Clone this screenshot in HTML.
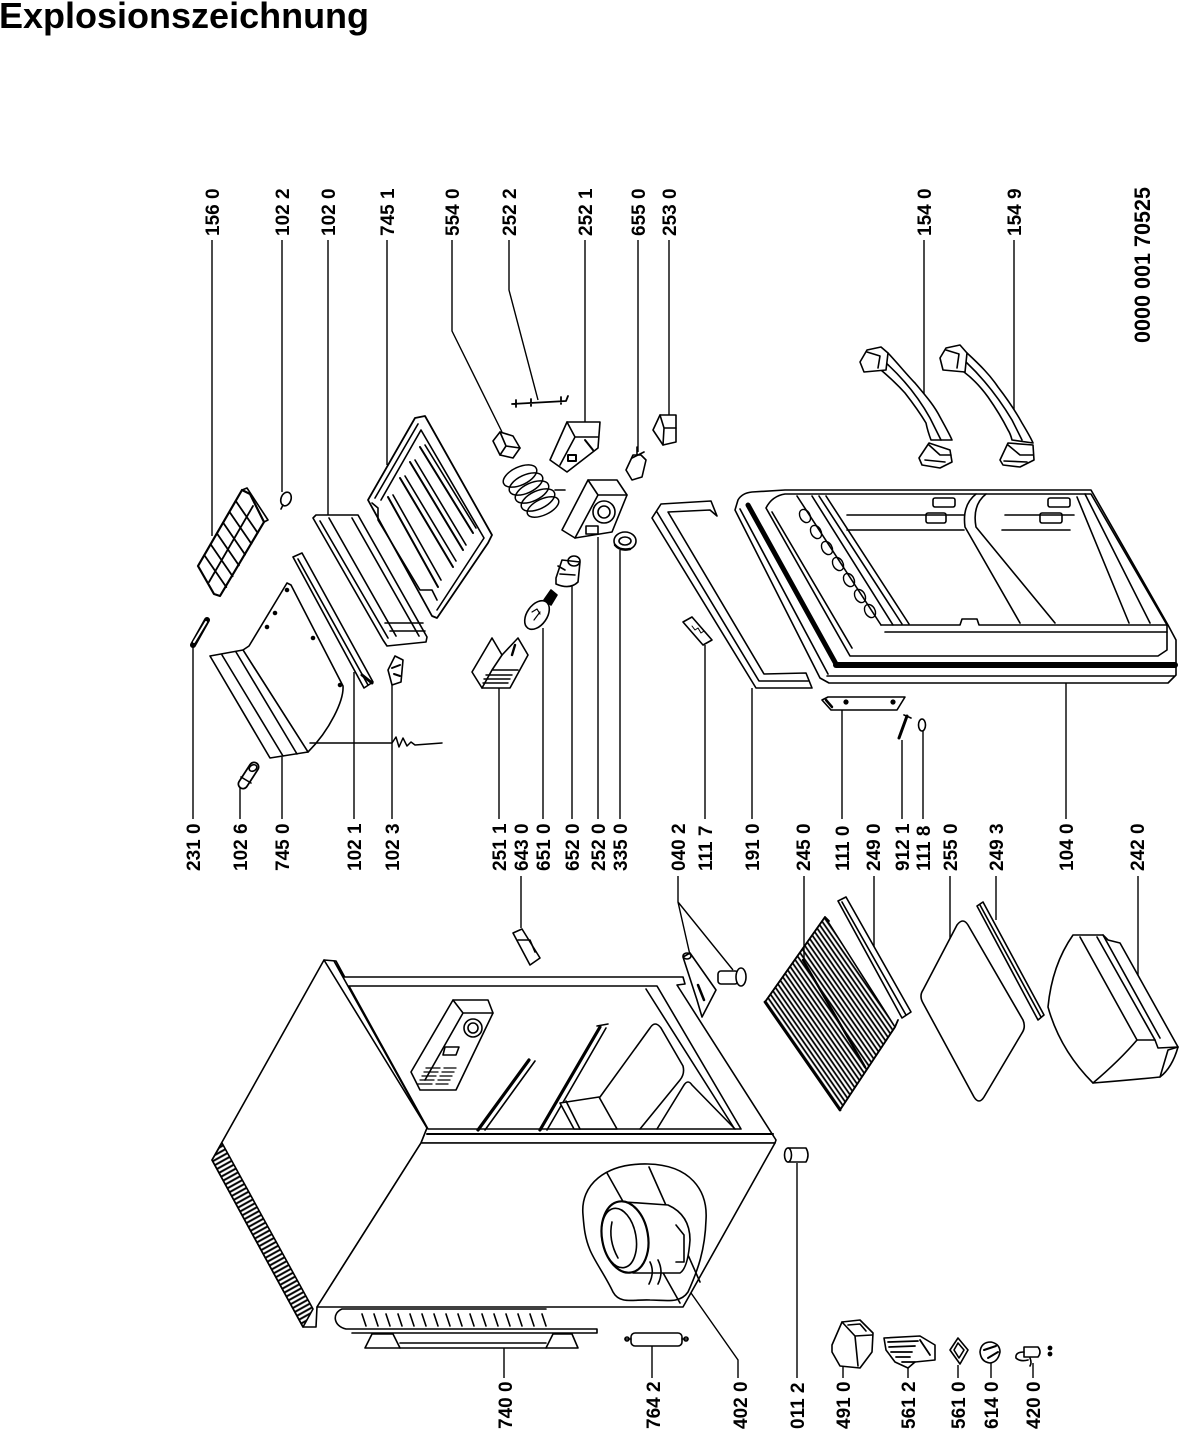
<!DOCTYPE html>
<html><head><meta charset="utf-8">
<style>
html,body{margin:0;padding:0;background:#fff;}
svg{display:block;}
text{font-family:"Liberation Sans",Arial,sans-serif;font-weight:bold;fill:#000;}
</style></head><body>
<svg width="1179" height="1439" viewBox="0 0 1179 1439" xmlns="http://www.w3.org/2000/svg">
<defs>
<pattern id="wire" patternUnits="userSpaceOnUse" width="4" height="10" patternTransform="rotate(-34.8)"><line x1="1.2" y1="0" x2="1.2" y2="10" stroke="#000" stroke-width="1.8"/></pattern>
<pattern id="grill" patternUnits="userSpaceOnUse" width="10" height="4.4" patternTransform="rotate(-29)"><line x1="0" y1="1.2" x2="10" y2="1.2" stroke="#000" stroke-width="2"/></pattern>
</defs>
<rect width="1179" height="1439" fill="#fff"/>

<text x="-1" y="28" font-size="36">Explosionszeichnung</text>

<g font-size="19">
<text transform="translate(218.8,236) rotate(-90)">156 0</text>
<text transform="translate(288.8,236) rotate(-90)">102 2</text>
<text transform="translate(334.8,236) rotate(-90)">102 0</text>
<text transform="translate(393.8,236) rotate(-90)">745 1</text>
<text transform="translate(458.8,236) rotate(-90)">554 0</text>
<text transform="translate(515.8,236) rotate(-90)">252 2</text>
<text transform="translate(591.8,236) rotate(-90)">252 1</text>
<text transform="translate(644.8,236) rotate(-90)">655 0</text>
<text transform="translate(675.8,236) rotate(-90)">253 0</text>
<text transform="translate(930.8,236) rotate(-90)">154 0</text>
<text transform="translate(1020.8,236) rotate(-90)">154 9</text>
<text transform="translate(199.8,871) rotate(-90)">231 0</text>
<text transform="translate(246.8,871) rotate(-90)">102 6</text>
<text transform="translate(288.8,871) rotate(-90)">745 0</text>
<text transform="translate(360.8,871) rotate(-90)">102 1</text>
<text transform="translate(398.8,871) rotate(-90)">102 3</text>
<text transform="translate(505.8,871) rotate(-90)">251 1</text>
<text transform="translate(527.8,871) rotate(-90)">643 0</text>
<text transform="translate(549.8,871) rotate(-90)">651 0</text>
<text transform="translate(578.8,871) rotate(-90)">652 0</text>
<text transform="translate(604.8,871) rotate(-90)">252 0</text>
<text transform="translate(626.8,871) rotate(-90)">335 0</text>
<text transform="translate(684.8,871) rotate(-90)">040 2</text>
<text transform="translate(711.8,871) rotate(-90)">111 7</text>
<text transform="translate(758.8,871) rotate(-90)">191 0</text>
<text transform="translate(809.8,871) rotate(-90)">245 0</text>
<text transform="translate(848.8,871) rotate(-90)">111 0</text>
<text transform="translate(879.8,871) rotate(-90)">249 0</text>
<text transform="translate(908.8,871) rotate(-90)">912 1</text>
<text transform="translate(929.8,871) rotate(-90)">111 8</text>
<text transform="translate(956.8,871) rotate(-90)">255 0</text>
<text transform="translate(1002.8,871) rotate(-90)">249 3</text>
<text transform="translate(1072.8,871) rotate(-90)">104 0</text>
<text transform="translate(1143.8,871) rotate(-90)">242 0</text>
<text transform="translate(511.8,1429) rotate(-90)">740 0</text>
<text transform="translate(659.8,1429) rotate(-90)">764 2</text>
<text transform="translate(746.8,1429) rotate(-90)">402 0</text>
<text transform="translate(803.8,1429) rotate(-90)">011 2</text>
<text transform="translate(849.8,1429) rotate(-90)">491 0</text>
<text transform="translate(914.8,1429) rotate(-90)">561 2</text>
<text transform="translate(964.8,1429) rotate(-90)">561 0</text>
<text transform="translate(997.8,1429) rotate(-90)">614 0</text>
<text transform="translate(1039.8,1429) rotate(-90)">420 0</text>
</g>
<text transform="translate(1150,343) rotate(-90)" font-size="22" textLength="156" lengthAdjust="spacingAndGlyphs">0000 001 70525</text>

<g fill="none" stroke="#000" stroke-width="1.4">
<path d="M212,240 V536"/>
<path d="M282,240 V492"/>
<path d="M328,240 V516"/>
<path d="M387,240 V465"/>
<path d="M452,240 V331 L502,432"/>
<path d="M509,240 V290 L538,400"/>
<path d="M585,240 V422"/>
<path d="M638,240 V452"/>
<path d="M669,240 V415"/>
<path d="M924,240 V394"/>
<path d="M1014,240 V410"/>
<path d="M193,819 V646"/>
<path d="M240,819 V787"/>
<path d="M282,819 V757"/>
<path d="M354,819 V672"/>
<path d="M392,819 V685"/>
<path d="M499,819 V688"/>
<path d="M521,876 V928"/>
<path d="M543,819 V628"/>
<path d="M572,819 V576"/>
<path d="M598,819 V537"/>
<path d="M620,819 V550"/>
<path d="M678,876 V902 L690,955 M678,902 L733,970"/>
<path d="M705,819 V645"/>
<path d="M752,819 V688"/>
<path d="M804,876 V963"/>
<path d="M842,819 V710"/>
<path d="M874,876 V947"/>
<path d="M902,819 V740"/>
<path d="M923,819 V731"/>
<path d="M950,876 V950"/>
<path d="M996,876 V920"/>
<path d="M1066,819 V683"/>
<path d="M1138,876 V987"/>
<path d="M504,1378 V1348"/>
<path d="M652,1378 V1346"/>
<path d="M738,1378 V1360 L684,1283"/>
<path d="M797,1378 V1163"/>
<path d="M843,1378 V1367"/>
<path d="M908,1378 V1365"/>
<path d="M958,1378 V1365"/>
<path d="M991,1378 V1363"/>
<path d="M1033,1378 V1363"/>
</g>

<g fill="none" stroke="#000" stroke-width="1.6" stroke-linejoin="round" stroke-linecap="round">

<!-- CABINET -->
<path fill="#fff" d="M324,960 L336,961 L427,1128 L421,1143 L317,1307 L316,1327 L303,1327 L212,1160 Z"/>
<path d="M324,960 L427,1128"/>
<path fill="url(#grill)" d="M212,1160 L303,1327 L313,1309 L222,1143 Z"/>
<path fill="#fff" d="M334,961 L344,977 L683,977 L685,984 L677,985 L776,1140 L775,1143 L421,1143 L427,1128 Z"/>
<path fill="#fff" d="M349,986 L657,986 L741,1129 L428,1129 Z"/>
<path d="M427,1134 L773,1134" stroke-width="2"/>
<path d="M646,989 L734,1128"/>
<path fill="#fff" d="M421,1143 L775,1143 L683,1307 L317,1307 Z"/>
<path fill="#fff" d="M411,1072 L453,1000 L488,1000 L493,1013 L456,1090 L420,1090 Z"/>
<path d="M453,1000 L463,1013 L493,1013 M463,1013 L425,1080"/>
<circle cx="473" cy="1028" r="9"/>
<circle cx="473" cy="1028" r="5"/>
<path d="M445,1047 L459,1047 L456,1055 L443,1055 Z"/>
<path d="M426,1068 L440,1068 M424,1072 L438,1072 M422,1076 L436,1076 M420,1080 L434,1080 M418,1084 L432,1084 M444,1068 L456,1068 M442,1072 L454,1072 M440,1076 L452,1076 M438,1080 L450,1080 M436,1084 L448,1084" stroke-width="1.3"/>
<path d="M529,1060 L478,1130" stroke-width="3.2"/>
<path d="M535,1061 L485,1130"/>
<path d="M600,1027 L540,1130" stroke-width="3.2"/>
<path d="M606,1028 L547,1130 M597,1026 L608,1024"/>
<path d="M600,1097 L650,1028 Q655,1020 661,1028 L683,1066 Q685,1074 680,1080 L640,1129"/>
<path d="M657,1129 L684,1085 Q688,1079 692,1085 L735,1129"/>
<path fill="#fff" d="M560,1103 L599,1097 L617,1129 L574,1129 Z"/>
<path d="M566,1101 L580,1129"/>
<path d="M607,1173 L680,1303 M649,1167 L700,1282"/>
<path d="M583,1215 C580,1185 605,1163 648,1164 C690,1165 708,1190 706,1220 C705,1250 698,1270 688,1292 C680,1304 665,1300 650,1300 C635,1299 620,1305 613,1292 C605,1275 595,1262 590,1250 C585,1238 584,1228 583,1215 Z"/>
<path fill="#fff" d="M625,1202 L668,1205 Q690,1215 690,1240 Q688,1268 680,1273 L633,1273 Z"/>
<ellipse cx="625" cy="1237" rx="23" ry="36" transform="rotate(-10 625 1237)" fill="#fff" stroke-width="2.2"/>
<ellipse cx="619" cy="1238" rx="17" ry="30" transform="rotate(-10 619 1238)"/>
<path d="M612,1222 Q608,1240 618,1258"/>
<path d="M650,1262 q5,10 -1,22 M658,1260 q6,12 0,24"/>
<path d="M676,1225 L684,1235 L684,1262 L676,1262"/>
<!-- condenser -->
<path fill="#fff" d="M546,1309 L342,1309 C332,1313 333,1326 346,1329 L597,1329 L597,1333 L352,1333"/>
<path d="M362,1314 l4,12 M374,1314 l4,12 M386,1314 l4,12 M398,1314 l4,12 M410,1314 l4,12 M422,1314 l4,12 M434,1314 l4,12 M446,1314 l4,12 M458,1314 l4,12 M470,1314 l4,12 M482,1314 l4,12 M494,1314 l4,12 M506,1314 l4,12 M518,1314 l4,12 M530,1314 l4,12 M542,1314 l4,12"/>
<path fill="#fff" d="M365,1348 L372,1334 L393,1334 L400,1348 Z"/>
<path fill="#fff" d="M546,1348 L553,1334 L572,1334 L578,1348 Z"/>
<path d="M400,1343 L546,1343 M400,1348 L546,1348"/>
<rect x="631" y="1333" width="51" height="13" rx="4" fill="#fff"/>
<path d="M625,1339 L631,1339 M682,1339 L688,1339"/>
<circle cx="627" cy="1339" r="2"/><circle cx="686" cy="1339" r="2"/>
<path fill="#fff" d="M788,1148 L806,1148 Q810,1155 806,1162 L788,1162 Z"/>
<ellipse cx="788" cy="1155" rx="3.5" ry="7" fill="#fff"/>
<path fill="#fff" d="M683,957 L690,953 L716,990 L702,1017 L697,1000 Z"/>
<ellipse cx="687" cy="956" rx="4" ry="3"/>
<path d="M698,985 L704,1000" stroke-width="2.5"/>
<rect x="718" y="971" width="20" height="13" rx="3" fill="#fff"/>
<ellipse cx="741" cy="977" rx="5" ry="9" fill="#fff"/>
<path fill="#fff" d="M513,933 L522,929 L540,958 L530,965 Z"/>
<path d="M518,940 L530,940 L535,952"/>

<!-- SHELVES -->
<path fill="url(#wire)" d="M765,1002 L825,917 L895,1027 L840,1110 Z"/>
<path d="M765,1002 L825,917 L829,921 M840,1110 L895,1027 L898,1020" stroke-width="1.8"/>
<path d="M765,1002 L840,1110" stroke-width="2.8"/>
<path d="M803,960 L865,1067" stroke-width="2.4"/>
<path fill="#fff" d="M838,901 L846,897 L911,1012 L902,1018 Z"/>
<path d="M842,902 L906,1015"/>
<path fill="#fff" d="M957,925 Q963,917 968,925 L1023,1020 Q1026,1027 1022,1033 L984,1097 Q979,1105 974,1097 L923,1003 Q919,996 923,990 Z"/>
<path fill="#fff" d="M977,906 L983,902 L1044,1015 L1038,1020 Z"/>
<path d="M980,905 L1041,1017"/>
<path fill="#fff" d="M1073,935 L1103,935 L1108,940 L1120,943 L1178,1047 L1168,1050 L1160,1077 Q1130,1080 1093,1083 Q1060,1050 1048,1007 Q1052,965 1073,935 Z"/>
<path d="M1080,937 L1137,1040 L1155,1040 L1158,1048 L1178,1047"/>
<path d="M1097,937 L1155,1040"/>
<path d="M1103,935 L1160,1038"/>
<path d="M1093,1083 Q1120,1060 1137,1040"/>
<path d="M1160,1077 Q1172,1068 1178,1047"/>

<!-- DOOR -->
<path fill="#fff" d="M738,500 Q742,493 752,492 L785,490 L1091,490 L1168,625 L1176,640 L1176,675 L1168,683 L829,683 L820,678 L735,510 Z"/>
<path d="M748,505 L836,664" stroke-width="5"/>
<path d="M836,665 L1175,665" stroke-width="6"/>
<path d="M827,676 L1174,676"/>
<path d="M740,509 L828,674"/>
<path d="M766,508 Q772,496 785,494 L1091,494 L1167,625 L1167,650 L1158,656 L850,656 Z"/>
<path d="M881,625 L960,625 L962,619 L977,619 L979,625 L1167,625"/>
<path d="M885,632 L1167,632"/>
<path d="M797,496 L881,625 M812,496 L893,625 M819,496 L902,624 M826,496 L909,624"/>
<g stroke-width="1.4">
<ellipse cx="805" cy="516" rx="5" ry="7" transform="rotate(-30 805 516)"/>
<ellipse cx="816" cy="532" rx="5" ry="7" transform="rotate(-30 816 532)"/>
<ellipse cx="827" cy="548" rx="5" ry="7" transform="rotate(-30 827 548)"/>
<ellipse cx="838" cy="564" rx="5" ry="7" transform="rotate(-30 838 564)"/>
<ellipse cx="849" cy="580" rx="5" ry="7" transform="rotate(-30 849 580)"/>
<ellipse cx="860" cy="596" rx="5" ry="7" transform="rotate(-30 860 596)"/>
<ellipse cx="870" cy="611" rx="5" ry="7" transform="rotate(-30 870 611)"/>
</g>
<path d="M772,512 L852,648"/>
<path d="M847,515 L964,515 M847,530 L964,530"/>
<path d="M976,494 Q962,505 965,527 L1020,623"/>
<path d="M986,494 Q972,505 976,527 L1055,623"/>
<path d="M1005,515 L1074,515 M1002,530 L1070,530"/>
<path d="M1077,497 L1129,623 M1085,494 L1150,623"/>
<rect x="933" y="498" width="22" height="9" rx="2"/>
<rect x="926" y="513" width="20" height="10" rx="2"/>
<rect x="1048" y="498" width="22" height="9" rx="2"/>
<rect x="1040" y="513" width="22" height="10" rx="2"/>
<path fill="#fff" d="M652,518 L661,504 L711,501 L717,516 L710,510 L668,512 L764,674 L806,673 L812,688 L756,688 Z"/>
<path d="M657,512 L759,681 L808,681"/>
<path fill="#fff" d="M683,622 L692,617 L712,640 L703,645 Z"/>
<path d="M692,626 l3,4 l3,-2 l3,5 l3,-2" stroke-width="1"/>
<path fill="#fff" d="M822,700 L828,697 L905,697 L897,710 L831,710 Z"/>
<path d="M826,700 L832,707" stroke-width="2.5"/>
<circle cx="846" cy="702" r="1.8" fill="#000"/><circle cx="893" cy="702" r="1.8" fill="#000"/>
<path d="M899,738 L907,716" stroke-width="3"/>
<path d="M904,715 L911,718"/>
<ellipse cx="922" cy="725" rx="3.5" ry="6"/>

<!-- HANDLES -->
<path fill="#fff" d="M888,353 C900,366 908,376 915,383 C925,395 934,405 940,417 C946,428 950,435 952,440 L931,440 C928,432 927,428 926,423 C920,413 912,402 905,393 C896,383 888,376 881,370 Z"/>
<path d="M885,362 C905,380 920,400 930,418 L941,440"/>
<path fill="#fff" d="M860,362 L867,350 L881,347 L888,353 L886,370 L864,372 Z"/>
<path d="M867,352 L880,356 L878,368"/>
<path fill="#fff" d="M919,458 L929,443 L950,450 L952,462 L940,468 L922,465 Z"/>
<path d="M929,445 L940,455 L951,455 M925,460 L945,462"/>
<path fill="#fff" d="M967,353 C980,365 990,375 998,387 C1008,400 1016,412 1022,423 C1028,433 1031,438 1033,443 L1012,440 C1011,436 1010,433 1008,430 C1002,418 995,407 988,397 C980,386 972,378 964,372 Z"/>
<path d="M966,362 C985,380 1000,400 1012,420 L1022,440"/>
<path fill="#fff" d="M940,358 L946,348 L960,345 L967,353 L965,372 L943,370 Z"/>
<path d="M946,350 L959,354 L957,368"/>
<path fill="#fff" d="M1000,460 L1008,443 L1033,445 L1034,460 L1020,467 L1003,465 Z"/>
<path d="M1008,445 L1020,455 L1033,455 M1004,461 L1027,462"/>

<!-- TOP-LEFT PARTS -->
<path fill="#fff" d="M242,490 L250,494 L264,522 L220,596 L214,594 L198,566 Z" stroke-width="2.2"/>
<path d="M235.7,500.9 L257.7,532.9 M229.4,511.7 L251.4,543.7 M223.1,522.6 L245.1,554.6 M216.9,533.4 L238.9,565.4 M210.6,544.3 L232.6,576.3 M204.3,555.1 L226.3,587.1 M253,506 L209,582" stroke-width="1.8"/>
<path d="M242,490 L247,488 L268,520 L264,522"/>
<ellipse cx="286" cy="499" rx="5" ry="7" transform="rotate(20 286 499)" fill="#fff"/>
<path d="M283,505 L281,509"/>
<path fill="#fff" d="M313,518 L316,515 L358,515 L427,637 L426,642 L387,646 L383,640 Z"/>
<path d="M320,521 L388,638 M329,518 L396,636 M352,518 L419,636"/>
<path d="M385,623 L423,623 M390,631 L425,631"/>
<path fill="#fff" d="M368,500 L415,418 L425,416 L492,535 L488,543 L437,618 L432,616 Z" stroke-width="1.8"/>
<path d="M375,498 L418,424 M381,500 L421,430 L484,538 L437,610"/>
<path d="M388,497 L438,587 M400,478 L453,567 M410,462 L463,550 M420,447 L473,533" stroke-width="2"/>
<path d="M393,495 L441,580 M405,476 L456,561 M415,460 L466,545 M425,445 L476,528"/>
<path d="M372,503 L378,508 L378,520 L420,590 L432,590 L437,600"/>
<path fill="#fff" d="M293,557 L302,553 L373,682 L364,688 Z"/>
<path d="M298,559 L368,685"/>
<path d="M362,675 L372,683" stroke-width="3"/>
<path fill="#fff" d="M243,650 L249,646 L287,583 L291,585 L343,686 C344,700 330,730 308,752 Z"/>
<path fill="#fff" d="M210,656 L243,650 L308,752 L270,758 Z"/>
<path d="M222,655 L283,756 M236,652 L297,754"/>
<circle cx="275" cy="613" r="1.5" fill="#000"/><circle cx="267" cy="627" r="1.5" fill="#000"/>
<circle cx="313" cy="638" r="1.5" fill="#000"/><circle cx="340" cy="685" r="1.5" fill="#000"/>
<circle cx="287" cy="590" r="1.5" fill="#000"/>
<path d="M310,743 L392,743 l4,-6 l3,10 l4,-9 l4,8 l4,-4 l4,3 L442,743" stroke-width="1.5"/>
<path d="M193,645 L207,620" stroke-width="6"/>
<path d="M194,642 L206,622" stroke="#fff" stroke-width="2"/>
<path d="M243,784 L254,767" stroke-width="11"/>
<path d="M243,784 L254,767" stroke="#fff" stroke-width="7.5"/>
<ellipse cx="253" cy="768" rx="4" ry="3" transform="rotate(-30 253 768)"/>
<path d="M241,777 L251,783"/>
<path fill="#fff" d="M388,670 L395,656 L403,660 L401,682 L392,685 Z"/>
<path d="M392,668 L400,665 M394,674 L400,676" stroke-width="2"/>
<path fill="#fff" d="M472,672 L492,638 L502,655 L518,638 L528,655 L510,688 L482,688 Z"/>
<path d="M482,688 L492,670 L502,655 M492,670 L518,670"/>
<path d="M486,675 L512,675 M484,679 L510,679 M483,683 L508,683" stroke-width="1.4"/>
<path d="M515,645 L512,655" stroke-width="2.4"/>
<ellipse cx="537" cy="615" rx="10" ry="16" transform="rotate(35 537 615)" fill="#fff"/>
<path d="M544,600 L551,590 L557,595 L551,605 Z" fill="#000"/>
<path d="M532,612 l5,-3 l3,5 M534,620 l6,-8" stroke-width="1.2"/>
<path fill="#fff" d="M556,578 L562,560 L580,562 L578,582 Q570,590 556,584 Z"/>
<ellipse cx="574" cy="561" rx="6" ry="5"/>
<path d="M558,566 L565,570 M560,574 L575,575"/>
<path fill="#fff" d="M562,530 L588,480 L617,480 L627,495 L612,532 L575,538 Z"/>
<path d="M588,480 L598,495 L627,495 M598,495 L575,538"/>
<circle cx="604" cy="512" r="11"/>
<circle cx="604" cy="512" r="6"/>
<rect x="586" y="526" width="12" height="8"/>
<ellipse cx="625" cy="541" rx="11" ry="9" fill="#fff"/>
<ellipse cx="625" cy="541" rx="6" ry="4"/>
<path d="M615,545 Q620,551 630,549" stroke-width="2.5"/>
<path fill="#fff" d="M493,441 L500,432 L513,436 L520,448 L513,458 L500,455 Z"/>
<path d="M500,432 L506,446 L520,448 M506,446 L500,455"/>
<g stroke-width="1.5">
<ellipse cx="520" cy="476" rx="18" ry="9" transform="rotate(-25 520 476)"/>
<ellipse cx="526" cy="484" rx="18" ry="9" transform="rotate(-25 526 484)"/>
<ellipse cx="532" cy="492" rx="18" ry="9" transform="rotate(-25 532 492)"/>
<ellipse cx="538" cy="500" rx="18" ry="9" transform="rotate(-25 538 500)"/>
<ellipse cx="543" cy="507" rx="17" ry="8" transform="rotate(-25 543 507)"/>
</g>
<path d="M555,490 L565,490"/>
<path d="M512,404 L566,401 M516,400 L516,407 M531,399 L531,406 M561,397 L561,404 M566,401 L568,396" stroke-width="1.8"/>
<path fill="#fff" d="M550,460 L567,422 L600,422 L598,448 L567,472 Z"/>
<path d="M567,422 L575,437 L598,437 M575,437 L560,465"/>
<path d="M568,455 l8,0 l0,6 l-8,0 Z M585,440 l8,10" stroke-width="2"/>
<path fill="#fff" d="M626,470 L633,455 L641,455 L646,460 L642,477 L632,480 Z"/>
<path d="M637,447 L637,455 M632,458 L644,452"/>
<path fill="#fff" d="M653,430 L660,415 L676,415 L676,442 L663,445 Z"/>
<path d="M660,415 L664,428 L676,428 M664,428 L663,445"/>

<!-- BOTTOM SMALL PARTS -->
<path fill="#fff" d="M832,1345 L842,1322 L860,1320 L873,1333 L872,1352 L860,1368 L840,1366 L832,1352 Z"/>
<path d="M842,1322 L855,1336 L872,1335 M855,1336 L858,1366 M848,1325 L860,1324 L866,1331"/>
<path fill="#fff" d="M884,1338 L920,1336 L935,1345 L935,1360 L915,1362 L908,1368 L895,1362 L886,1350 Z"/>
<path d="M888,1342 L918,1341 M889,1347 L915,1346 M891,1352 L912,1352 M896,1357 L910,1357 M920,1340 L930,1355 M902,1362 L915,1362" stroke-width="1.8"/>
<path fill="#fff" d="M950,1350 L958,1338 L968,1350 L960,1364 Z"/>
<path d="M954,1350 L958,1343 L964,1350 L959,1358 Z"/>
<path fill="#fff" d="M980,1352 Q981,1342 991,1342 Q1000,1344 1000,1352 Q998,1362 990,1363 Q981,1362 980,1352 Z"/>
<path d="M984,1350 L996,1346 M988,1358 L998,1352" stroke-width="2"/>
<path fill="#fff" d="M1024,1347 L1038,1347 Q1042,1352 1038,1357 L1024,1357 Z"/>
<path d="M1024,1352 Q1015,1352 1016,1358 Q1020,1362 1028,1360 M1030,1358 Q1032,1363 1030,1366"/>
<circle cx="1050" cy="1348" r="1.6" fill="#000"/>
<circle cx="1050" cy="1354" r="1.6" fill="#000"/>
</g>
</svg>
</body></html>
